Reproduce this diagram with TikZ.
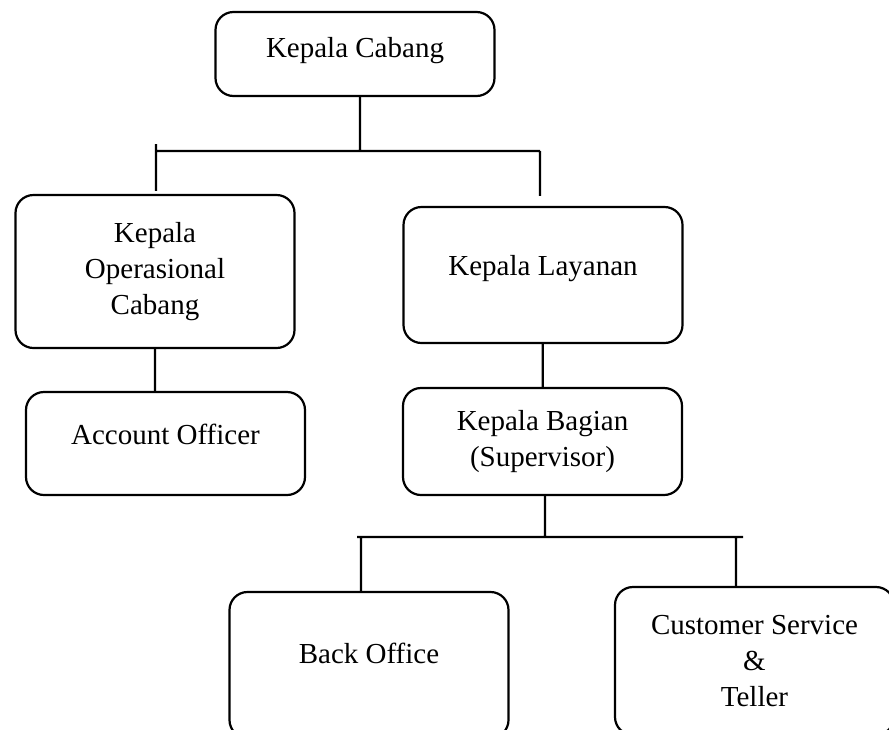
\documentclass[tikz,border=0pt]{standalone}
\usepackage{fontspec}
\setmainfont{Liberation Serif}
\usepackage{tikz}
\usetikzlibrary{positioning,calc}
\tikzset{org node/.style={rectangle,rounded corners=18pt,draw,line width=2.2pt,
minimum width=279pt,align=center,inner sep=0pt,font=\fontsize{29}{36}\selectfont}}

\begin{document}
\begin{tikzpicture}[x=1pt,y=-1pt,line width=2.2pt]
    \useasboundingbox (0,0) rectangle (889,729);
    \node[org node,minimum height=84pt,text depth=14pt] (cabang) at (355,54) {Kepala Cabang};
            \node[org node,minimum height=153pt] (ops) at (155,271.5) {Kepala\\Operasional\\Cabang};
            \node[org node,minimum height=136pt,text depth=20pt] (layanan) at (543,275) {Kepala Layanan};
            \node[org node,minimum height=103pt,text depth=19pt] (account) at (165.5,443.5) {Account Officer};
            \node[org node,minimum height=107pt] (bagian) at (542.5,441.5) {Kepala Bagian\\(Supervisor)};
            \node[org node,minimum height=146pt,text depth=24pt] (backoff) at (369,665) {Back Office};
            \node[org node,minimum height=148pt] (cs) at (754.5,661) {Customer Service\\\&\\Teller};

            \coordinate (b1) at (360,151);
            \coordinate (b1l) at (156,151);
            \coordinate (b1r) at (540,151);
            \coordinate (b2) at (545,537);
            \coordinate (b2l) at (357,537);
            \coordinate (b2r) at (743,537);
            \coordinate (b2a) at (361,537);
            \coordinate (b2b) at (736,537);

            \path[draw]
            (cabang.south -| b1)--(b1)
            (b1l)--(b1r)
            ([yshift=7pt]b1l)--([yshift=3pt]ops.north -| b1l)
            (b1r)--([yshift=10pt]layanan.north -| b1r)
            (ops.south)--(ops.south |- account.north)
            (layanan)--(bagian)
            (bagian.south -| b2)--(b2)
            (b2l)--(b2r)
            (b2a)--(backoff.north -| b2a)
            (b2b)--(cs.north -| b2b);

\end{tikzpicture}
\end{document}
